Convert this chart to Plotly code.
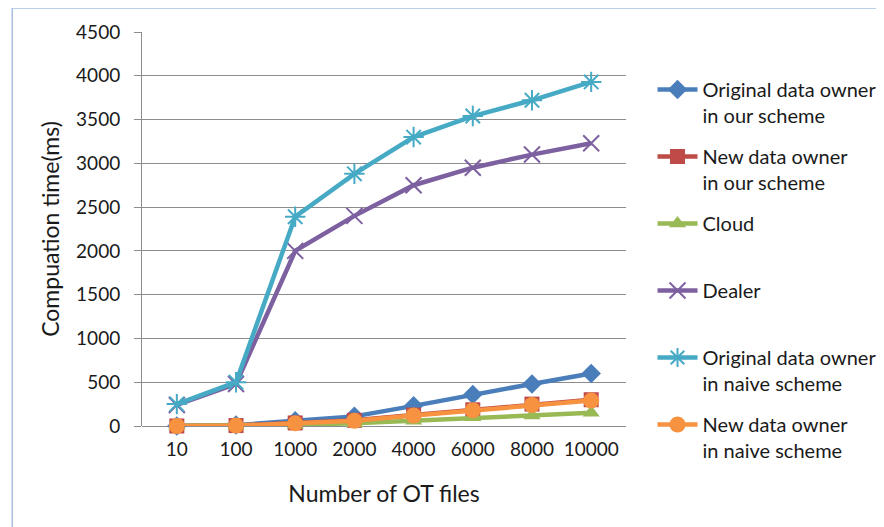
import plotly.graph_objects as go

categories = ["10", "100", "1000", "2000", "4000", "6000", "8000", "10000"]
orig_our = [0, 10, 60, 110, 230, 360, 480, 600]
new_our = [0, 5, 35, 65, 125, 185, 250, 300]
cloud = [0, 2, 15, 30, 60, 100, 120, 150]
dealer = [240, 480, 2000, 2400, 2750, 2950, 3100, 3230]
orig_naive = [250, 500, 2390, 2880, 3300, 3540, 3720, 3930]
new_naive = [0, 5, 30, 60, 120, 180, 240, 290]

series = [
    ("Original data owner<br>in our scheme", orig_our, "#4A7EBB", "diamond", 15, None),
    ("New data owner<br>in our scheme", new_our, "#BE4B48", "square", 15, None),
    ("Cloud<br> ", cloud, "#98B954", "triangle-up", 15, None),
    ("Dealer<br> ", dealer, "#7D60A0", "x-thin", 16, 2),
    ("Original data owner<br>in naive scheme", orig_naive, "#46AAC5", "asterisk", 17, 2),
    ("New data owner<br>in naive scheme", new_naive, "#F69240", "circle", 16, None),
]

fig = go.Figure()
for i, (name, vals, color, sym, size, lw) in enumerate(series):
    marker = dict(symbol=sym, size=size, color=color)
    if lw:
        marker["line"] = dict(color=color, width=lw)
    fig.add_trace(go.Scatter(
        x=categories, y=vals, name=name, mode="lines+markers",
        line=dict(color=color, width=4.5), marker=marker, legendgroup=f"g{i}",
        cliponaxis=False,
    ))

font = "Lato, 'Open Sans', sans-serif"
# page body has an 8px margin; plot area target on screen: x 142-627, y 32-426
L, T, W, H = 134, 24, 485, 394
fig.update_layout(
    width=884, height=527,
    margin=dict(l=L, r=884 - L - W, t=T, b=527 - T - H),
    paper_bgcolor="white", plot_bgcolor="white",
    font=dict(family=font, size=19, color="#1a1a1a"),
    showlegend=True,
    legend=dict(
        x=1.0526, y=0.9036, xanchor="left", yanchor="top",
        valign="top", tracegroupgap=12,
        font=dict(size=20), bgcolor="rgba(0,0,0,0)",
        itemwidth=40,
    ),
    xaxis=dict(
        type="category", showgrid=False, showline=False, zeroline=False,
        ticks="", ticklabelstandoff=10,
        title=dict(text="Number of OT files", font=dict(size=23), standoff=26),
    ),
    yaxis=dict(
        range=[0, 4500], dtick=500, showgrid=True, gridcolor="#8C8C8C",
        gridwidth=1, showline=True, linecolor="#8C8C8C", linewidth=1,
        ticks="outside", ticklen=7, tickcolor="#8C8C8C", ticklabelstandoff=10,
        zeroline=True, zerolinecolor="#8C8C8C", zerolinewidth=1,
        title=dict(text="Compuation time(ms)", font=dict(size=23), standoff=10),
    ),
    shapes=[dict(
        type="rect", xref="paper", yref="paper",
        x0=(4 - L) / W, x1=(900 - L) / W,
        y0=(T + H - 540) / H, y1=(T + H - 0) / H,
        line=dict(color="#A7C0DE", width=1.5), fillcolor="rgba(0,0,0,0)", layer="below",
    )],
)

fig.write_html("out.html")
